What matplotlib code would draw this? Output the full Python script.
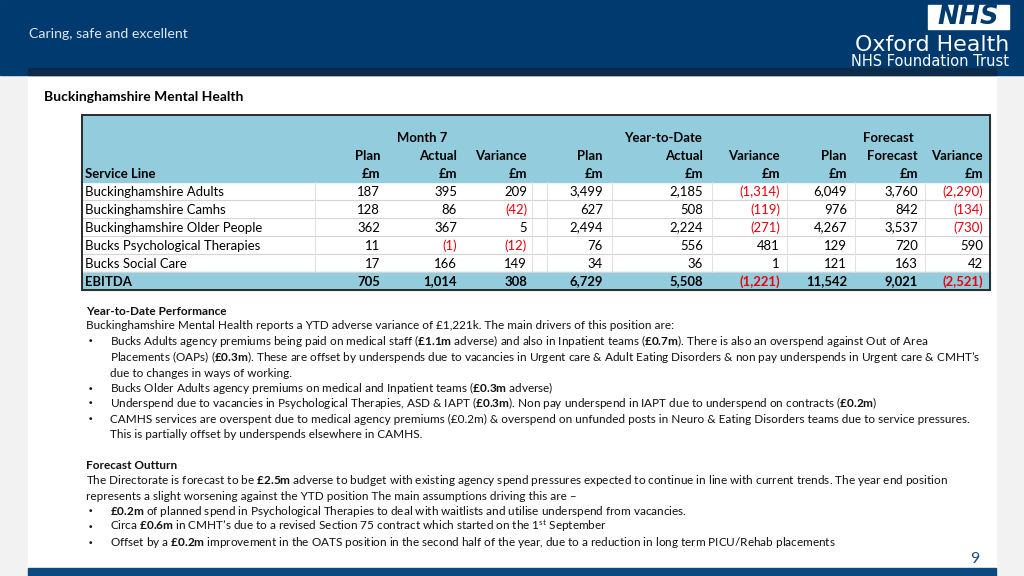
import matplotlib
matplotlib.use("Agg")
import matplotlib.pyplot as plt
from matplotlib.patches import Rectangle

# ---------------- data ----------------
service_lines = ["Buckinghamshire Adults", "Buckinghamshire Camhs", "Buckinghamshire Older People",
                 "Bucks Psychological Therapies", "Bucks Social Care"]
m7_plan = [187, 128, 362, 11, 17]
m7_actual = [395, 86, 367, -1, 166]
m7_var = [209, -42, 5, -12, 149]
ytd_plan = [3499, 627, 2494, 76, 34]
ytd_actual = [2185, 508, 2224, 556, 36]
ytd_var = [-1314, -119, -271, 481, 1]
fc_plan = [6049, 976, 4267, 129, 121]
fc_forecast = [3760, 842, 3537, 720, 163]
fc_var = [-2290, -134, -730, 590, 42]
total_label = "EBITDA"
totals = [705, 1014, 308, 6729, 5508, -1221, 11542, 9021, -2521]

group_headers = ["Month 7", "Year-to-Date", "Forecast"]
col_headers = ["Plan", "Actual", "Variance", "Plan", "Actual", "Variance", "Plan", "Forecast", "Variance"]
unit_label = "£m"

# ---------------- figure ----------------
FONT = "Lato"
plt.rcParams["mathtext.fontset"] = "custom"
plt.rcParams["mathtext.rm"] = FONT
plt.rcParams["mathtext.bf"] = FONT + ":bold"
plt.rcParams["mathtext.it"] = FONT + ":italic"

W, H = 1024, 576
fig = plt.figure(figsize=(W / 100, H / 100), dpi=100)
ax = fig.add_axes([0, 0, 1, 1])
ax.set_xlim(0, W)
ax.set_ylim(H, 0)
ax.axis("off")
r = fig.canvas.get_renderer()

NAVY = "#003a6e"
STRIP = "#0c2a4a"
LBLUE = "#93cddd"
RED = "#e8000b"

def tw(s, **kw):
    t = ax.text(0, 0, s + "|", **kw)
    w1 = t.get_window_extent(r).width
    t.remove()
    t = ax.text(0, 0, "|", **kw)
    w2 = t.get_window_extent(r).width
    t.remove()
    return w1 - w2

def fit(s, target, weight="normal", family=FONT):
    return 10 * target / tw(s, size=10, weight=weight, family=family)

# background
ax.add_patch(Rectangle((0, 0), W, H, color="#f2f2f2", zorder=0))
ax.add_patch(Rectangle((28, 75), 968, 493, color="white", zorder=0))
ax.add_patch(Rectangle((0, 0), W, 75, color=NAVY, zorder=1))
ax.add_patch(Rectangle((28, 68), 968, 7, color=STRIP, zorder=2))
ax.add_patch(Rectangle((28, 568), 968, 8, color="#0b4a80", zorder=1))

# header texts
s = fit("Caring, safe and excellent", 159)
ax.text(29, 38, "Caring, safe and excellent", color="#dfe7f0", size=s,
        family=FONT, va="baseline", ha="left", zorder=3)
ax.add_patch(Rectangle((928, 5), 81, 24, facecolor="white", edgecolor="white", zorder=3))
ax.text(968.5, 17.5, "NHS", color=NAVY, size=18.5, weight="heavy", style="italic",
        family="DejaVu Sans", va="center", ha="center", zorder=4)
s = fit("Oxford Health", 155, family="DejaVu Sans")
ax.text(1009, 51, "Oxford Health", color="white", size=s, family="DejaVu Sans",
        va="baseline", ha="right", zorder=3)
s = fit("NHS Foundation Trust", 158, family="DejaVu Sans")
ax.text(1009, 65.5, "NHS Foundation Trust", color="white", size=s, family="DejaVu Sans",
        va="baseline", ha="right", zorder=3)

# title
s = fit("Buckinghamshire Mental Health", 199, weight="bold")
ax.text(44, 101, "Buckinghamshire Mental Health", size=s, weight="bold", family=FONT,
        va="baseline", ha="left", color="black", zorder=3)

# ---------------- table ----------------
tx0, tx1 = 82, 990
ty0 = 115
hdr_bot = 182
row_h = 18
n = len(service_lines)
ty1 = hdr_bot + row_h * (n + 1)
ax.add_patch(Rectangle((tx0, ty0), tx1 - tx0, hdr_bot - ty0, color=LBLUE, zorder=2))
ax.add_patch(Rectangle((tx0, hdr_bot + row_h * n), tx1 - tx0, row_h, color=LBLUE, zorder=2))
for i in range(1, n + 1):
    yy = hdr_bot + row_h * i
    ax.plot([tx0, tx1], [yy, yy], color="#d4d4d4", lw=0.8, zorder=3)
for xv in [315, 532, 547, 612, 712, 787, 855, 925]:
    ax.plot([xv, xv], [hdr_bot, hdr_bot + row_h * n], color="#e0e0e0", lw=0.7, zorder=3)
ax.add_patch(Rectangle((tx0, ty0), tx1 - tx0, ty1 - ty0, fill=False, edgecolor="#2b2b2b",
                       lw=1.4, zorder=5))

ts = fit("Buckinghamshire Older People", 177)
BOFF = 4.5  # baseline offset from row centre
col_right = [380, 457, 527, 603, 703, 780, 847, 918, 983]
group_x = [422, 663, 888]
for gx, g in zip(group_x, group_headers):
    ax.text(gx, 137 + BOFF, g, size=ts, weight="bold", family=FONT, ha="center", va="baseline", zorder=4)
for cx, c in zip(col_right, col_headers):
    ax.text(cx, 155 + BOFF, c, size=ts, weight="bold", family=FONT, ha="right", va="baseline", zorder=4)
    ax.text(cx, 173 + BOFF, unit_label, size=ts, weight="bold", family=FONT, ha="right", va="baseline",
            zorder=4)
ax.text(85, 173 + BOFF, "Service Line", size=ts, weight="bold", family=FONT, ha="left", va="baseline",
        zorder=4)

def fmt(v):
    return f"({abs(v):,})" if v < 0 else f"{v:,}"

cols = [m7_plan, m7_actual, m7_var, ytd_plan, ytd_actual, ytd_var, fc_plan, fc_forecast, fc_var]
for i, name in enumerate(service_lines):
    yc = hdr_bot + row_h * i + row_h / 2 + BOFF
    ax.text(85, yc, name, size=ts, family=FONT, ha="left", va="baseline", zorder=4)
    for cx, col in zip(col_right, cols):
        v = col[i]
        ax.text(cx, yc, fmt(v), size=ts, family=FONT, ha="right", va="baseline",
                color=RED if v < 0 else "black", zorder=4)
yc = hdr_bot + row_h * n + row_h / 2 + BOFF
ax.text(85, yc, total_label, size=ts, weight="bold", family=FONT, ha="left", va="baseline", zorder=6)
for cx, v in zip(col_right, totals):
    ax.text(cx, yc, fmt(v), size=ts, weight="bold", family=FONT, ha="right", va="baseline",
            color=RED if v < 0 else "black", zorder=6)

# ---------------- commentary ----------------
line1 = ("Buckinghamshire Mental Health reports a YTD adverse variance of £1,221k. "
         "The main drivers of this position are:")
bs = fit(line1, 583)
TXT = "#111111"

def B(s):
    return r"$\mathbf{" + s + "}$"

def line(x, y, s, bold=False):
    ax.text(x, y, s, size=bs, family=FONT, color=TXT, weight="bold" if bold else "normal",
            ha="left", va="baseline", zorder=4)

def bullet(y):
    ax.text(88, y - 0.5, "•", size=bs * 0.8, family="DejaVu Sans", color=TXT, ha="left",
            va="baseline", zorder=4)

BX = 110
paras = [
    (86, 315, False, True, "Year-to-Date Performance"),
    (86, 329, False, False, line1),
    (BX, 345, True, False, "Bucks Adults agency premiums being paid on medical staff (" + B("£1.1m") +
     " adverse) and also in Inpatient teams (" + B("£0.7m") +
     "). There is also an overspend against Out of Area"),
    (BX, 361, False, False, "Placements (OAPs) (" + B("£0.3m") +
     "). These are offset by underspends due to vacancies in Urgent care & Adult Eating "
     "Disorders & non pay underspends in Urgent care & CMHT’s"),
    (BX, 377, False, False, "due to changes in ways of working."),
    (BX, 392, True, False, "Bucks Older Adults agency premiums on medical and Inpatient teams (" +
     B("£0.3m") + " adverse)"),
    (BX, 407, True, False, "Underspend due to vacancies in Psychological Therapies, ASD & IAPT (" +
     B("£0.3m") + "). Non pay underspend in IAPT due to underspend on contracts (" + B("£0.2m") + ")"),
    (BX, 423, True, False, "CAMHS services are overspent due to medical agency premiums (£0.2m) & overspend on "
     "unfunded posts in Neuro & Eating Disorders teams due to service pressures."),
    (BX, 438, False, False, "This is partially offset by underspends elsewhere in CAMHS."),
    (86, 469, False, True, "Forecast Outturn"),
    (86, 484, False, False, "The Directorate is forecast to be " + B("£2.5m") +
     " adverse to budget with existing agency spend pressures expected to continue in line "
     "with current trends. The year end position"),
    (86, 500, False, False, "represents a slight worsening against the YTD position The main assumptions "
     "driving this are –"),
    (BX, 515, True, False, B("£0.2m") + " of planned spend in Psychological Therapies to deal with waitlists "
     "and utilise underspend from vacancies."),
    (BX, 530, True, False, "Circa " + B("£0.6m") +
     r" in CMHT’s due to a revised Section 75 contract which started on the $1^{\mathrm{st}}$ September"),
    (BX, 546, True, False, "Offset by a " + B("£0.2m") +
     " improvement in the OATS position in the second half of the year, due to a reduction "
     "in long term PICU/Rehab placements"),
]
for x, y, has_b, bold, s in paras:
    if has_b:
        bullet(y)
    line(x, y, s, bold)

ax.text(975, 563, "9", size=bs * 1.35, family=FONT, color="#1f4e79", ha="center", va="baseline", zorder=4)

fig.savefig("out.png", dpi=100)
